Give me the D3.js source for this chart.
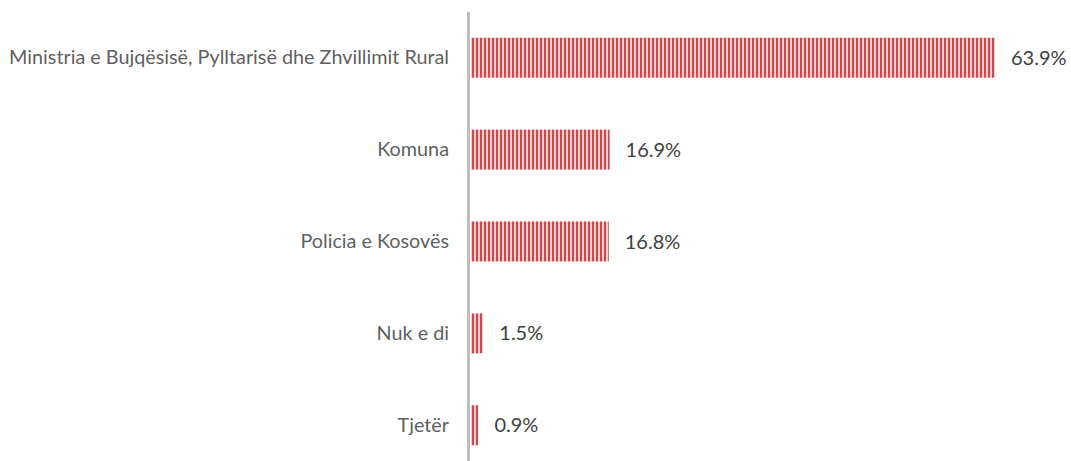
<!DOCTYPE html>
<html>
<head>
<meta charset="utf-8">
<script src="https://cdn.jsdelivr.net/npm/d3@7"></script>
<style>
  body { margin: 0; background: #fff; }
  svg { display: block; }
  .cat { font-family: Lato, sans-serif; font-size: 19.8px; fill: #5f5f5f; }
  .val { font-family: Lato, sans-serif; font-size: 20px; fill: #404040; }
</style>
</head>
<body>
<script>
var categories = ["Ministria e Bujqësisë, Pylltarisë dhe Zhvillimit Rural", "Komuna", "Policia e Kosovës", "Nuk e di", "Tjetër"];
var values = [63.9, 16.9, 16.8, 1.5, 0.9];
var valueLabels = ["63.9%", "16.9%", "16.8%", "1.5%", "0.9%"];

var w = 1071, h = 461;
var margin = { top: 12, left: 471 };

var svg = d3.select("body").append("svg")
  .attr("width", w)
  .attr("height", h);

// vertical stripe fill like the original
var pat = svg.append("defs").append("pattern")
  .attr("id", "stripes")
  .attr("patternUnits", "userSpaceOnUse")
  .attr("width", 4)
  .attr("height", 10);
pat.append("rect").attr("width", 4).attr("height", 10).attr("fill", "#f3cccc");
pat.append("rect").attr("width", 2).attr("height", 10).attr("fill", "#c9494c");

var x = d3.scaleLinear()
  .domain([0, 63.9])
  .range([margin.left, 995]);

var y = d3.scaleBand()
  .domain(categories)
  .range([margin.top, 471])
  .paddingInner(0.565)
  .paddingOuter(0.28);

svg.append("g")
  .selectAll("rect")
  .data(values)
  .enter().append("rect")
  .attr("x", x(0))
  .attr("y", function (d, i) { return y(categories[i]); })
  .attr("width", function (d) { return x(d) - x(0); })
  .attr("height", y.bandwidth())
  .attr("fill", "url(#stripes)");

svg.append("g")
  .selectAll("text")
  .data(valueLabels)
  .enter().append("text")
  .attr("class", "val")
  .attr("x", function (d, i) { return x(values[i]) + 16; })
  .attr("y", function (d, i) { return y(categories[i]) + y.bandwidth() / 2; })
  .attr("dy", "0.35em")
  .text(function (d) { return d; });

var yAxis = d3.axisLeft(y).tickSize(0).tickPadding(22);
var ga = svg.append("g")
  .attr("transform", "translate(" + margin.left + ",0)")
  .call(yAxis);
ga.select(".domain").remove();
ga.selectAll("text").attr("class", "cat").attr("fill", null);

svg.append("line")
  .attr("x1", 468.5).attr("x2", 468.5)
  .attr("y1", margin.top).attr("y2", h)
  .attr("stroke", "#bfbfbf")
  .attr("stroke-width", 3);
</script>
</body>
</html>
